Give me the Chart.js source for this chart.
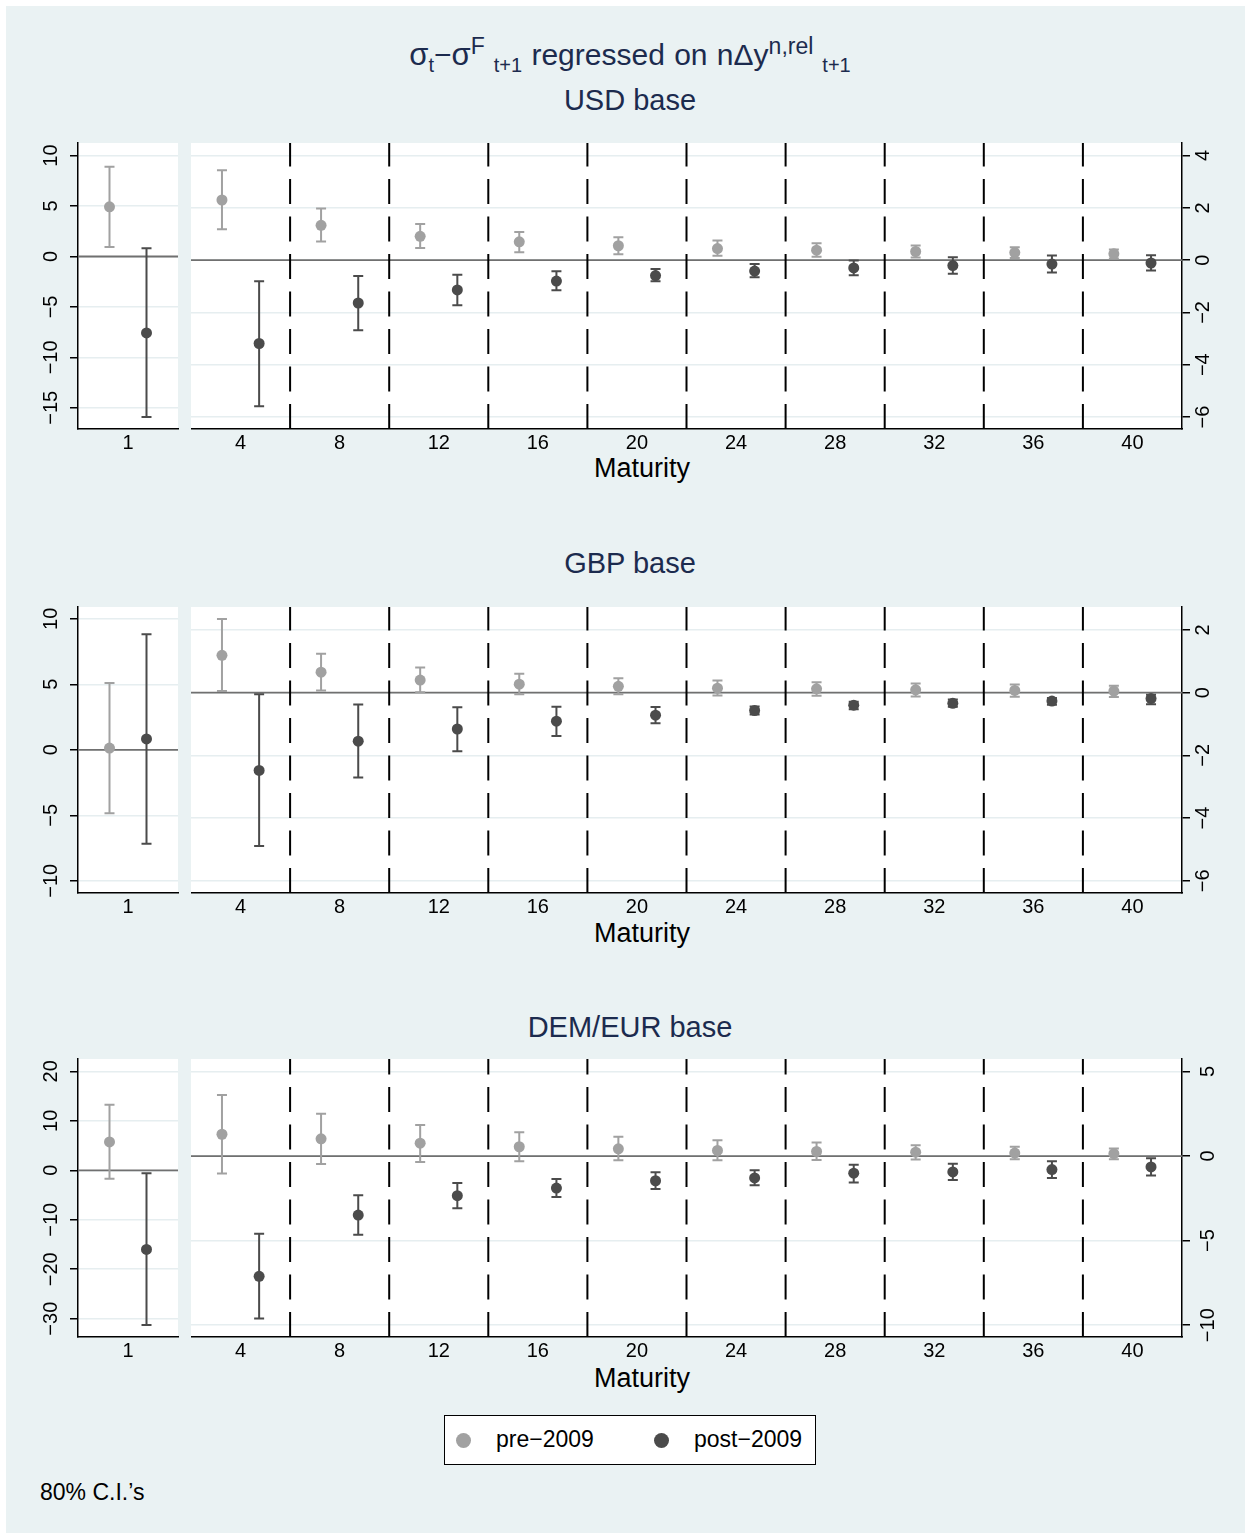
<!DOCTYPE html>
<html>
<head>
  <title>sigma regressed on relative yield changes</title>
  <script src="https://cdn.jsdelivr.net/npm/chart.js"></script>
  <style>
    body { margin: 0; width: 1251px; height: 1539px; overflow: hidden; background: #ffffff; position: relative;
           font-family: 'Liberation Sans', Arial, sans-serif; }
    #bg { position: absolute; left: 6px; top: 6px; width: 1239px; height: 1527px; background: #eaf2f3; }
    .txt { position: absolute; transform: translate(-50%, -50%); white-space: nowrap; line-height: 1; }
    .head { color: #1c2b4e; font-size: 29px; }
    .xtitle { color: #000; font-size: 27px; }
    .title { font-size: 30px; word-spacing: 1px; }
    .title .sg { font-size: 31px; }
    .title sup { font-size: 23px; vertical-align: 11px; }
    .title sub { font-size: 20px; vertical-align: -7px; }
    .title sub.after { margin-left: 9px; }
    canvas { position: absolute; }
    #legend { position: absolute; left: 444px; top: 1415px; width: 372px; height: 50px; box-sizing: border-box;
              border: 1.5px solid #000; background: #fff; }
    .dot { position: absolute; width: 15px; height: 15px; border-radius: 50%; top: 17px; }
    .lab { position: absolute; top: 12px; font-size: 23px; line-height: 1; color: #000; }
    #note { position: absolute; left: 40px; top: 1481px; font-size: 23px; line-height: 1; color: #000; }
  </style>
</head>
<body>
  <div id="bg"></div>

  <div class="txt head title" style="left:630px; top:55px;"><span class="sg">σ</span><sub>t</sub>−<span class="sg">σ</span><sup>F</sup><sub class="after">t+1</sub> regressed on nΔy<sup>n,rel</sup><sub class="after">t+1</sub></div>
  <div class="txt head" style="left:630px; top:100px;">USD base</div>
  <div class="txt head" style="left:630px; top:563px;">GBP base</div>
  <div class="txt head" style="left:630px; top:1027px;">DEM/EUR base</div>
  <div class="txt xtitle" style="left:642px; top:468px;">Maturity</div>
  <div class="txt xtitle" style="left:642px; top:933px;">Maturity</div>
  <div class="txt xtitle" style="left:642px; top:1378px;">Maturity</div>

  <div id="legend">
    <div class="dot" style="left:11px; background:#a1a1a1;"></div>
    <div class="lab" style="left:51px;">pre−2009</div>
    <div class="dot" style="left:209px; background:#4b4b4b;"></div>
    <div class="lab" style="left:249px;">post−2009</div>
  </div>
  <div id="note">80% C.I.’s</div>

  <script>
    // maturities on the x axis (first one gets its own small plot)
    const maturities = [1, 4, 8, 12, 16, 20, 24, 28, 32, 36, 40];
    const dividers = [6, 10, 14, 18, 22, 26, 30, 34, 38];

    // USD base
    const usdPre    = [4.92, 2.30, 1.33, 0.91, 0.70, 0.55, 0.44, 0.38, 0.33, 0.29, 0.24];
    const usdPreLo  = [0.95, 1.18, 0.71, 0.46, 0.30, 0.22, 0.17, 0.13, 0.10, 0.08, 0.06];
    const usdPreHi  = [8.89, 3.44, 1.97, 1.38, 1.08, 0.87, 0.75, 0.65, 0.56, 0.49, 0.41];
    const usdPost   = [-7.58, -3.19, -1.64, -1.14, -0.80, -0.59, -0.42, -0.30, -0.21, -0.15, -0.11];
    const usdPostLo = [-15.9, -5.59, -2.68, -1.73, -1.15, -0.81, -0.66, -0.58, -0.52, -0.47, -0.40];
    const usdPostHi = [0.82, -0.81, -0.61, -0.56, -0.43, -0.34, -0.15, -0.01, 0.11, 0.18, 0.19];

    // GBP base
    const gbpPre    = [0.13, 1.19, 0.65, 0.40, 0.27, 0.20, 0.14, 0.12, 0.09, 0.07, 0.05];
    const gbpPreLo  = [-4.85, 0.05, 0.07, 0.01, -0.05, -0.05, -0.09, -0.10, -0.12, -0.13, -0.14];
    const gbpPreHi  = [5.10, 2.35, 1.24, 0.80, 0.60, 0.46, 0.39, 0.33, 0.29, 0.26, 0.22];
    const gbpPost   = [0.83, -2.48, -1.55, -1.16, -0.91, -0.72, -0.57, -0.40, -0.34, -0.27, -0.19];
    const gbpPostLo = [-7.17, -4.89, -2.71, -1.87, -1.38, -0.98, -0.70, -0.53, -0.45, -0.39, -0.37];
    const gbpPostHi = [8.82, -0.05, -0.38, -0.47, -0.45, -0.46, -0.44, -0.29, -0.22, -0.17, -0.07];

    // DEM/EUR base
    const demPre    = [5.73, 1.29, 1.02, 0.76, 0.55, 0.43, 0.33, 0.27, 0.23, 0.18, 0.14];
    const demPreLo  = [-1.73, -1.03, -0.47, -0.35, -0.31, -0.25, -0.25, -0.23, -0.21, -0.19, -0.19];
    const demPreHi  = [13.27, 3.61, 2.50, 1.84, 1.41, 1.14, 0.94, 0.80, 0.64, 0.55, 0.45];
    const demPost   = [-16.0, -7.11, -3.49, -2.34, -1.89, -1.46, -1.29, -1.01, -0.94, -0.80, -0.64];
    const demPostLo = [-31.27, -9.61, -4.66, -3.08, -2.42, -1.95, -1.72, -1.56, -1.42, -1.29, -1.15];
    const demPostHi = [-0.60, -4.59, -2.32, -1.60, -1.36, -0.95, -0.84, -0.51, -0.45, -0.31, -0.13];

    // tick labels
    const usdLeftTicks  = [-15, -10, -5, 0, 5, 10];
    const usdRightTicks = [-6, -4, -2, 0, 2, 4];
    const gbpLeftTicks  = [-10, -5, 0, 5, 10];
    const gbpRightTicks = [-6, -4, -2, 0, 2];
    const demLeftTicks  = [-30, -20, -10, 0, 10, 20];
    const demRightTicks = [-10, -5, 0, 5];

    const FONT = "'Liberation Sans', Arial, sans-serif";
    const preColor = "#a1a1a1";
    const postColor = "#4b4b4b";

    // white plot region
    const plotBg = {
      id: "plotBg",
      beforeDraw(chart) {
        const a = chart.chartArea, ctx = chart.ctx;
        ctx.save();
        ctx.fillStyle = "#ffffff";
        ctx.fillRect(a.left, a.top, a.right - a.left, a.bottom - a.top);
        ctx.restore();
      }
    };

    // zero line, dashed maturity dividers and the confidence intervals
    const refLines = {
      id: "refLines",
      beforeDatasetsDraw(chart) {
        const a = chart.chartArea, ctx = chart.ctx;
        const xs = chart.scales.x, ys = chart.scales.y;
        ctx.save();
        const y0 = ys.getPixelForValue(0);
        ctx.strokeStyle = "#707070";
        ctx.lineWidth = 1.8;
        ctx.beginPath();
        ctx.moveTo(a.left, y0);
        ctx.lineTo(a.right, y0);
        ctx.stroke();

        (chart.config.options.dividers || []).forEach(v => {
          const x = xs.getPixelForValue(v);
          ctx.strokeStyle = "#000000";
          ctx.lineWidth = 2;
          ctx.setLineDash([25, 12.5]);
          ctx.beginPath();
          ctx.moveTo(x, a.bottom);
          ctx.lineTo(x, a.top);
          ctx.stroke();
        });
        ctx.setLineDash([]);

        chart.data.datasets.forEach(ds => {
          ctx.strokeStyle = ds.barColor;
          ctx.lineWidth = 2;
          ds.data.forEach((p, i) => {
            const x = xs.getPixelForValue(p.x);
            const yl = ys.getPixelForValue(ds.lo[i]);
            const yh = ys.getPixelForValue(ds.hi[i]);
            ctx.beginPath();
            ctx.moveTo(x, yl); ctx.lineTo(x, yh);
            ctx.moveTo(x - 5, yl); ctx.lineTo(x + 5, yl);
            ctx.moveTo(x - 5, yh); ctx.lineTo(x + 5, yh);
            ctx.stroke();
          });
        });
        ctx.restore();
      }
    };

    const minusSign = v => String(v).replace("-", "\u2212");

    function makeChart(o) {
      const canvas = document.createElement("canvas");
      canvas.width = o.width;
      canvas.height = o.height;
      canvas.style.left = o.left + "px";
      canvas.style.top = o.top + "px";
      document.body.appendChild(canvas);

      const datasets = o.series.map(s => ({
        data: o.idx.map(i => ({ x: maturities[i] + s.shift, y: s.est[i] })),
        lo: o.idx.map(i => s.lo[i]),
        hi: o.idx.map(i => s.hi[i]),
        barColor: s.color,
        backgroundColor: s.color,
        borderColor: s.color,
        borderWidth: 0,
        pointRadius: 5.5,
        pointHoverRadius: 5.5,
        showLine: false
      }));

      return new Chart(canvas, {
        type: "scatter",
        data: { datasets: datasets },
        options: {
          responsive: false,
          animation: false,
          events: [],
          dividers: o.dividers,
          layout: { padding: o.padding, autoPadding: false },
          plugins: { legend: { display: false }, tooltip: { enabled: false } },
          scales: {
            x: {
              type: "linear",
              min: o.xMin, max: o.xMax,
              grid: { display: false, drawTicks: false },
              border: { display: true, color: "#000000", width: 1.5 },
              ticks: { color: "#000000", padding: 2, font: { family: FONT, size: 20 } },
              afterBuildTicks: s => { s.ticks = o.xTicks.map(v => ({ value: v })); },
              afterFit: s => { s.height = 40; }
            },
            y: {
              position: o.yPos,
              min: o.yMin, max: o.yMax,
              grid: { color: "#e6eef0", lineWidth: 1.5, tickColor: "#000000", tickLength: 8, tickWidth: 1.5 },
              border: { display: true, color: "#000000", width: 1.5 },
              ticks: { color: "#000000", minRotation: 90, maxRotation: 90, crossAlign: "center", padding: 2,
                       font: { family: FONT, size: 20 }, callback: minusSign },
              afterBuildTicks: s => { s.ticks = o.yTicks.map(v => ({ value: v })); },
              afterFit: s => { s.width = o.axisW; }
            }
          }
        },
        plugins: [plotBg, refLines]
      });
    }

    function makePanel(p) {
      const series = [
        { est: p.pre, lo: p.preLo, hi: p.preHi, color: preColor },
        { est: p.post, lo: p.postLo, hi: p.postHi, color: postColor }
      ];
      const h = 12 + (p.bottom - p.top) + 40;
      // maturity 1 on its own scale
      makeChart({
        left: 0, top: p.top - 12, width: 180, height: h, axisW: 78, yPos: "left",
        padding: { top: 12, left: 0, right: 2, bottom: 0 },
        idx: [0], xMin: 0, xMax: 2, xTicks: [1],
        yMin: p.leftRange[0], yMax: p.leftRange[1], yTicks: p.leftTicks,
        series: series.map((s, k) => Object.assign({ shift: k ? 0.37 : -0.37 }, s))
      });
      // maturities 4..40
      makeChart({
        left: 191, top: p.top - 12, width: 1043, height: h, axisW: 52, yPos: "right",
        padding: { top: 12, left: 0, right: 0, bottom: 0 },
        idx: [1, 2, 3, 4, 5, 6, 7, 8, 9, 10], xMin: 2, xMax: 42, xTicks: maturities.slice(1),
        yMin: p.rightRange[0], yMax: p.rightRange[1], yTicks: p.rightTicks,
        dividers: dividers,
        series: series.map((s, k) => Object.assign({ shift: k ? 0.75 : -0.75 }, s))
      });
    }

    makePanel({ top: 141, bottom: 429, leftRange: [-17.1, 11.25], rightRange: [-6.46, 4.48],
      leftTicks: usdLeftTicks, rightTicks: usdRightTicks,
      pre: usdPre, preLo: usdPreLo, preHi: usdPreHi, post: usdPost, postLo: usdPostLo, postHi: usdPostHi });
    makePanel({ top: 605, bottom: 893, leftRange: [-10.93, 10.9], rightRange: [-6.39, 2.73],
      leftTicks: gbpLeftTicks, rightTicks: gbpRightTicks,
      pre: gbpPre, preLo: gbpPreLo, preHi: gbpPreHi, post: gbpPost, postLo: gbpPostLo, postHi: gbpPostHi });
    makePanel({ top: 1057, bottom: 1337, leftRange: [-33.7, 22.5], rightRange: [-10.7, 5.74],
      leftTicks: demLeftTicks, rightTicks: demRightTicks,
      pre: demPre, preLo: demPreLo, preHi: demPreHi, post: demPost, postLo: demPostLo, postHi: demPostHi });
  </script>
</body>
</html>
